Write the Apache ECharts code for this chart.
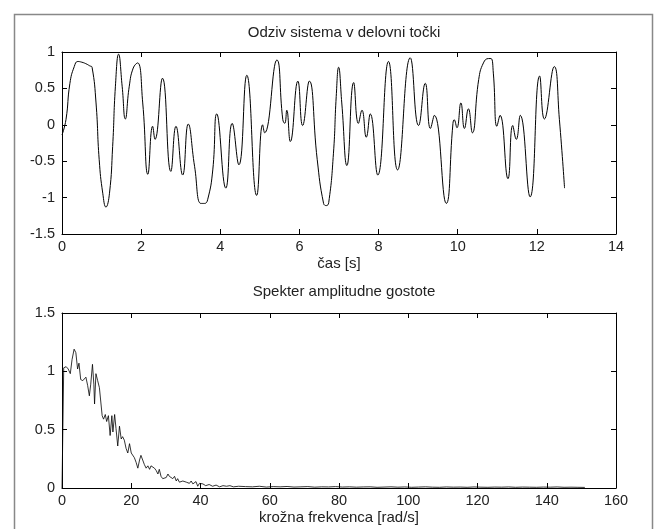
<!DOCTYPE html>
<html><head><meta charset="utf-8">
<script src="https://cdn.jsdelivr.net/npm/echarts@6/dist/echarts.min.js"></script>
<style>html,body{margin:0;padding:0;background:#fff}#c{width:654px;height:529px}</style>
</head><body><div id="c"></div>
<script>
// Top plot: system response
const timeT = [0,0.1,0.2,0.31,0.4,0.5,0.6,0.7,0.76,0.86,0.94,1.03,1.11,1.2,1.28,1.35,1.43,1.52,1.6,1.7,1.8,1.91,2.04,2.17,2.29,2.35,2.54,2.75,2.88,3.05,3.19,3.35,3.51,3.6,3.68,3.81,3.91,4.14,4.3,4.47,4.67,4.92,5.07,5.12,5.43,5.58,5.63,5.68,5.77,5.96,6.08,6.25,6.45,6.61,6.68,6.74,6.86,6.93,6.99,7.07,7.2,7.37,7.49,7.58,7.69,7.79,7.98,8.25,8.48,8.8,9.01,9.18,9.31,9.41,9.71,9.88,9.91,9.98,10.08,10.17,10.27,10.37,10.53,10.65,10.78,10.84,10.9,10.99,11.07,11.27,11.39,11.48,11.58,11.83,12.07,12.19,12.44,12.57,12.7];
const timeV = [-0.14,0.07,0.57,0.8,0.87,0.86,0.84,0.81,0.79,0.3,-0.48,-0.94,-1.13,-0.94,-0.3,0.53,0.97,0.53,0.08,0.53,0.78,0.85,0.3,-0.68,-0.02,-0.2,0.64,-0.64,-0.02,-0.69,0.01,-0.57,-1.08,-1.08,-1.03,-0.62,0.15,-0.87,0.02,-0.55,0.68,-0.97,0,-0.11,0.89,0.07,0.02,0.2,-0.23,0.6,-0.01,0.6,-0.48,-1.08,-1.11,-1.07,-0.39,0.39,0.79,0.3,-0.56,0.58,0.02,0.2,-0.17,0.15,-0.69,0.87,-0.62,0.92,-0.01,0.57,-0.05,0.13,-1.08,0.02,0.07,-0.04,0.3,-0.05,0.22,-0.11,0.62,0.85,0.91,0.91,0.71,-0.02,0.13,-0.74,-0.01,-0.2,0.13,-0.99,0.67,0.08,0.8,0.07,-0.87];
const timeTicks = [0,2,4,6,8,10,12,14];
const respTicks = [-1.5,-1,-0.5,0,0.5,1];

// Bottom plot: amplitude density spectrum
const freqW = [0,0.5,1.2,1.8,2.4,2.9,3.5,4.0,4.5,4.9,5.4,6.0,6.5,6.9,7.4,7.9,8.3,8.8,9.2,9.4,9.8,10.3,10.8,11.3,11.6,12.0,12.5,12.9,13.4,13.9,14.4,14.7,15.2,15.6,16.1,16.6,17.1,17.5,18.0,18.5,19.0,19.5,20.0,20.4,20.9,21.4,21.9,22.4,22.8,23.3,23.8,24.3,24.8,25.3,25.7,26.2,26.7,27.2,27.7,28.1,28.6,29.1,29.6,30.1,30.6,31.0,31.5,32.0,32.5,33.0,33.4,33.9,34.4,34.9,35.4,35.9,36.3,36.8,37.3,37.8,38.3,38.7,39.2,39.7,40.2,40.7,41.5,42.5,43.5,44.5,45.5,46.5,47.5,48.5,49.5,51,53,55,57,59,61,63,65,67,69,71,73,75,77,79,81,83,85,87,89,91,93,95,97,99,101,103,105,107,109,111,113,115,117,119,121,123,125,127,129,131,133,135,137,139,141,143,145,147,149,151,153,155,157];
const ampA = [0,1.03,1.04,1.02,0.98,1.1,1.19,1.16,1.02,1.07,0.93,0.92,0.93,0.95,0.88,0.79,0.89,1.06,0.89,0.72,0.98,0.92,0.86,0.85,0.62,0.59,0.63,0.57,0.62,0.45,0.62,0.48,0.63,0.51,0.36,0.53,0.42,0.44,0.41,0.34,0.3,0.38,0.3,0.3,0.26,0.22,0.17,0.24,0.28,0.28,0.2,0.17,0.19,0.16,0.19,0.2,0.17,0.15,0.12,0.16,0.1,0.08,0.07,0.09,0.12,0.1,0.11,0.08,0.1,0.06,0.08,0.05,0.04,0.06,0.055,0.05,0.065,0.04,0.06,0.035,0.02,0.055,0.015,0.04,0.03,0.035,0.02,0.03,0.015,0.025,0.01,0.02,0.015,0.02,0.01,0.015,0.012,0.01,0.015,0.008,0.012,0.01,0.013,0.008,0.01,0.012,0.007,0.01,0.009,0.012,0.008,0.01,0.007,0.009,0.01,0.006,0.008,0.01,0.007,0.009,0.006,0.008,0.01,0.007,0.006,0.009,0.007,0.008,0.006,0.009,0.007,0.006,0.008,0.007,0.009,0.006,0.008,0.007,0.006,0.008,0.007,0.009,0.006,0.007,0.006,0.005];
const freqTicks = [0,20,40,60,80,100,120,140,160];
const ampTicks = [0,0.5,1,1.5];

const FONT = 'Liberation Sans, Arial, sans-serif';
const FS = 14.5;
const FT = 15;
const txt = {color:'#222', fontFamily:FONT, fontSize:FS};
const nameTxt = {color:'#222', fontFamily:FONT, fontSize:FT};

function mkX(grid, min, max, interval, pos, labels, name) {
  return {
    type:'value', gridIndex:grid, position:pos, min:min, max:max, interval:interval,
    axisLine:{show:true, onZero:false, lineStyle:{color:'#000', width:1}},
    axisTick:{show:true, inside:true, length:5, lineStyle:{color:'#000'}},
    axisLabel:Object.assign({show:labels, margin:5}, txt),
    splitLine:{show:false},
    name: name || '', nameLocation:'middle', nameGap:22, nameTextStyle:nameTxt
  };
}
function mkY(grid, min, max, interval, pos, labels) {
  return {
    type:'value', gridIndex:grid, position:pos, min:min, max:max, interval:interval,
    axisLine:{show:true, onZero:false, lineStyle:{color:'#000', width:1}},
    axisTick:{show:true, inside:true, length:5, lineStyle:{color:'#000'}},
    axisLabel:Object.assign({show:labels, margin:7}, txt),
    splitLine:{show:false}
  };
}

const chart = echarts.init(document.getElementById('c'), null, {renderer:'canvas'});
chart.setOption({
  animation:false,
  backgroundColor:'#fff',
  graphic:[{type:'rect', left:12, top:12, shape:{x:0,y:0,width:638,height:540}, style:{fill:'none', stroke:'#888', lineWidth:1.5}, silent:true}],
  title:[
    {text:'Odziv sistema v delovni točki', left:339, top:20, textAlign:'center', textStyle:{color:'#222', fontFamily:FONT, fontSize:FT, fontWeight:'normal'}},
    {text:'Spekter amplitudne gostote', left:339, top:279, textAlign:'center', textStyle:{color:'#222', fontFamily:FONT, fontSize:FT, fontWeight:'normal'}}
  ],
  grid:[
    {left:62, top:52, width:554, height:182, show:false},
    {left:62, top:313, width:554, height:175, show:false}
  ],
  xAxis:[
    mkX(0, 0, 14, 2, 'bottom', true, 'čas [s]'),
    mkX(0, 0, 14, 2, 'top', false),
    mkX(1, 0, 160, 20, 'bottom', true, 'krožna frekvenca [rad/s]'),
    mkX(1, 0, 160, 20, 'top', false)
  ],
  yAxis:[
    mkY(0, -1.5, 1, 0.5, 'left', true),
    mkY(0, -1.5, 1, 0.5, 'right', false),
    mkY(1, 0, 1.5, 0.5, 'left', true),
    mkY(1, 0, 1.5, 0.5, 'right', false)
  ],
  series:[
    {type:'line', xAxisIndex:0, yAxisIndex:0, data:timeT.map((t,i)=>[t,timeV[i]]), showSymbol:false, smooth:0.5, lineStyle:{color:'#000', width:1}},
    {type:'line', xAxisIndex:2, yAxisIndex:2, data:freqW.map((w,i)=>[w,ampA[i]]), showSymbol:false, lineStyle:{color:'#000', width:0.8}}
  ]
});
</script></body></html>
